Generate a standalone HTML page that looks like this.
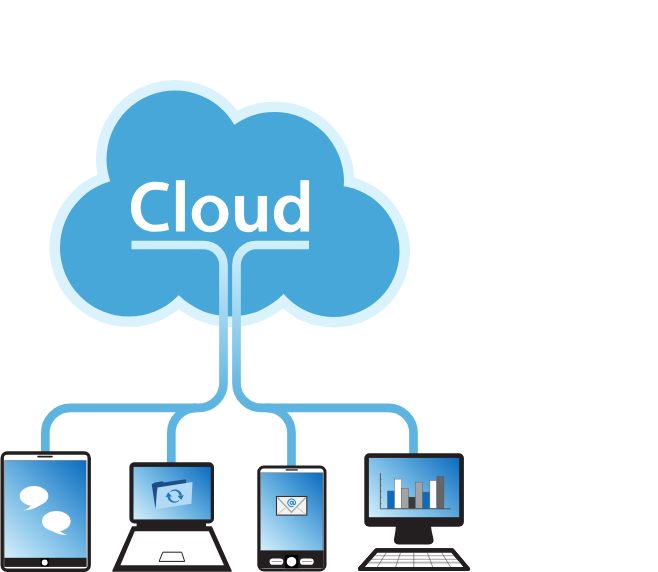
<!DOCTYPE html>
<html><head><meta charset="utf-8"><style>html,body{margin:0;padding:0;background:#fff;width:658px;height:572px;overflow:hidden}svg{display:block}body{font-family:"Liberation Sans",sans-serif}</style></head>
<body><svg width="658" height="572" viewBox="0 0 658 572">
<defs>
<linearGradient id="scr" x1="0" y1="1" x2="1" y2="0">
<stop offset="0" stop-color="#d3eefb"/><stop offset="0.45" stop-color="#76bae5"/><stop offset="1" stop-color="#0b6cbf"/></linearGradient>
<linearGradient id="pipeg" gradientUnits="userSpaceOnUse" x1="0" y1="241" x2="0" y2="405">
<stop offset="0" stop-color="#cff0fd"/><stop offset="0.238" stop-color="#b9e2f7"/><stop offset="0.543" stop-color="#93cfee"/><stop offset="0.848" stop-color="#6bbbe4"/><stop offset="1" stop-color="#5db4e0"/></linearGradient>
</defs>
<circle cx="175" cy="159" r="79.0" fill="#d9f2fc"/>
<circle cx="274.5" cy="181.5" r="80.0" fill="#d9f2fc"/>
<circle cx="333.7" cy="251.2" r="76.3" fill="#d9f2fc"/>
<circle cx="128.9" cy="247.6" r="79.4" fill="#d9f2fc"/>
<circle cx="230.5" cy="243" r="84.0" fill="#d9f2fc"/>
<circle cx="175" cy="159" r="68.5" fill="#48a7d9"/>
<circle cx="274.5" cy="181.5" r="69.5" fill="#48a7d9"/>
<circle cx="333.7" cy="251.2" r="65.8" fill="#48a7d9"/>
<circle cx="128.9" cy="247.6" r="68.9" fill="#48a7d9"/>
<circle cx="230.5" cy="243" r="73.5" fill="#48a7d9"/>
<path d="M169.0,184.3 C165,182.6 160.5,181.85 155.4,181.85 C141,181.85 131,192.5 131,207.4 C131,222.5 141,231.7 155.4,231.7 C160.5,231.7 165.5,230.9 169.0,229.7 L167.5,222.6 C164,224 159.5,224.8 155.2,224.8 C146.5,224.8 140.7,217.5 140.7,207.4 C140.7,197 146.5,189.65 155,189.65 C159.5,189.65 163.5,190.2 167.0,191.0 Z" fill="#fff"/>
<rect x="175.9" y="180.2" width="9" height="51.3" fill="#fff"/>
<path fill="#fff" fill-rule="evenodd" d="M191.7,213.9 a18.4,18.4 0 1 0 36.8,0 a18.4,18.4 0 1 0 -36.8,0 Z M200.5,213.9 a9.4,12.1 0 1 0 18.8,0 a9.4,12.1 0 1 0 -18.8,0 Z"/>
<path fill="#fff" d="M235,196 H244.1 V215.5 Q244.1,225 251,225 Q257.75,225 257.75,215 V196 H267 V231.4 H258.7 L258.3,226.5 Q255,232.3 248.3,232.3 Q235,232.3 235,216 Z"/>
<path fill="#fff" fill-rule="evenodd" d="M302,200 L300.8,200 C297.5,196.8 294,195.4 290,195.4 C280,195.4 273.9,203 273.9,214 C273.9,225 280,232.3 289.5,232.3 C294.5,232.3 298,230 300.8,227 L302,227 Z M291.7,201.7 a8.6,11.5 0 1 0 0.01,0 Z"/>
<rect x="300.4" y="180.2" width="8.7" height="51.3" fill="#fff"/>
<path d="M131.5,245.0 H203.5 A20,20 0 0 1 223.5,265.0 V330 V382.9 A25,25 0 0 1 198.5,407.9 H70.3 A25,25 0 0 0 45.3,432.9 V452" fill="none" stroke="url(#pipeg)" stroke-width="8.7"/>
<path d="M309,245.0 H256.5 A20,20 0 0 0 236.5,265.0 V330 V382.9 A25,25 0 0 0 261.5,407.9 H388.5 A25,25 0 0 1 413.5,432.9 V454" fill="none" stroke="url(#pipeg)" stroke-width="8.7"/>
<path d="M196.3,407.9 A25,25 0 0 0 171.3,432.9 V463" fill="none" stroke="#5db4e0" stroke-width="8.7"/>
<path d="M266.5,407.9 A25,25 0 0 1 291.5,432.9 V467" fill="none" stroke="#5db4e0" stroke-width="8.7"/>
<rect x="2.2" y="453" width="87" height="117.2" rx="5" fill="#fff" stroke="#231f20" stroke-width="3.4"/>
<rect x="4.3" y="460.2" width="82.2" height="106.6" fill="#777"/>
<defs><linearGradient id="g1" gradientUnits="userSpaceOnUse" x1="5" y1="557.6" x2="94.0" y2="468.6"><stop offset="0" stop-color="#d3eefb"/><stop offset="0.45" stop-color="#76bae5"/><stop offset="1" stop-color="#0b6cbf"/></linearGradient></defs>
<rect x="5" y="460.6" width="81" height="97.4" fill="url(#g1)"/>
<rect x="4.3" y="557.8" width="82.2" height="9" fill="#231f20"/>
<rect x="40.7" y="558" width="8" height="8.5" fill="#000"/>
<circle cx="44.7" cy="562.5" r="2.9" fill="#fff"/>
<line x1="38" y1="456.6" x2="52" y2="456.6" stroke="#231f20" stroke-width="1.6" stroke-linecap="round"/>
<ellipse cx="34" cy="496" rx="14.3" ry="10" fill="#fff"/>
<path d="M31,505.6 Q29,508.8 23.2,510.5 Q33.5,510.2 41.5,504.6 Z" fill="#fff"/>
<ellipse cx="56.3" cy="521.2" rx="14.3" ry="10.2" fill="#fff"/>
<path d="M51.5,530.5 Q58,535 67.5,535 Q61.5,533 59.5,530.8 Z" fill="#fff"/>
<rect x="131.4" y="464.2" width="80.6" height="57.3" rx="3" fill="#231f20" stroke="#231f20" stroke-width="4"/>
<defs><linearGradient id="g2" gradientUnits="userSpaceOnUse" x1="133.5" y1="519.4" x2="198.35" y2="454.54999999999995"><stop offset="0" stop-color="#d3eefb"/><stop offset="0.45" stop-color="#76bae5"/><stop offset="1" stop-color="#0b6cbf"/></linearGradient></defs>
<rect x="133.5" y="466.9" width="77.2" height="52.5" fill="url(#g2)"/>
<rect x="136.6" y="522" width="69.4" height="6.6" fill="#231f20"/>
<path d="M132.5,527 L211.3,527 L231,571 L113,571 Z" fill="#231f20" stroke="#231f20" stroke-width="1.6" stroke-linejoin="round"/>
<path d="M134.7,531.3 L208.9,531.3 L224,565.3 L120.4,565.3 Z" fill="#fff"/>
<path d="M162.8,552.2 L181.6,552.2 L184.7,561.4 L159.1,561.4 Z" fill="#fff" stroke="#231f20" stroke-width="1"/>
<path d="M151.7,484.2 L155,482.4 L162.6,481.3 L163.8,482.5 L186,479.2 L186.4,486 L157,490 L155.5,508.9 Z" fill="#1c4f8a"/>
<path d="M157.5,487.5 L192.5,482.1 L191.4,503.8 L155.9,509.3 Z" fill="#b3daf5"/>
<path d="M170.25,491.65 L170.66,491.22 L171.11,490.82 L171.60,490.47 L172.12,490.17 L172.68,489.91 L173.25,489.71 L173.85,489.56 L174.47,489.47 L175.09,489.44 L175.72,489.46 L176.35,489.55 L176.97,489.69 L177.58,489.89 L178.17,490.15 L178.73,490.47 L179.27,490.84 L179.77,491.26 L180.24,491.74 L180.66,492.25 L181.03,492.81 L181.35,493.40 L181.61,494.02 L181.82,494.67 L181.96,495.34 L179.37,495.61 L179.35,495.16 L179.28,494.72 L179.17,494.28 L179.02,493.85 L178.82,493.44 L178.59,493.04 L178.31,492.66 L178.00,492.30 L177.66,491.97 L177.28,491.68 L176.87,491.42 L176.44,491.20 L175.98,491.02 L175.50,490.88 L175.01,490.78 L174.51,490.74 L174.01,490.74 L173.50,490.78 L172.99,490.88 L172.49,491.03 L172.01,491.22 L171.54,491.46 L171.09,491.74 L170.67,492.07 Z M179.15,500.55 L178.74,500.98 L178.29,501.38 L177.80,501.73 L177.28,502.03 L176.72,502.29 L176.15,502.49 L175.55,502.64 L174.93,502.73 L174.31,502.76 L173.68,502.74 L173.05,502.65 L172.43,502.51 L171.82,502.31 L171.23,502.05 L170.67,501.73 L170.13,501.36 L169.63,500.94 L169.16,500.46 L168.74,499.95 L168.37,499.39 L168.05,498.80 L167.79,498.18 L167.58,497.53 L167.44,496.86 L170.03,496.59 L170.05,497.04 L170.12,497.48 L170.23,497.92 L170.38,498.35 L170.58,498.76 L170.81,499.16 L171.09,499.54 L171.40,499.90 L171.74,500.23 L172.12,500.52 L172.53,500.78 L172.96,501.00 L173.42,501.18 L173.90,501.32 L174.39,501.42 L174.89,501.46 L175.39,501.46 L175.90,501.42 L176.41,501.32 L176.91,501.17 L177.39,500.98 L177.86,500.74 L178.31,500.46 L178.73,500.13 Z" fill="#1f73b8"/>
<path d="M177.58,495.80 L183.75,495.15 L181.15,500.05 Z" fill="#1f73b8"/>
<path d="M171.82,496.40 L165.65,497.05 L168.25,492.15 Z" fill="#1f73b8"/>
<rect x="258.8" y="467" width="66.2" height="103" rx="5" fill="#fff" stroke="#231f20" stroke-width="3"/>
<rect x="260" y="472.4" width="63.6" height="96" fill="#777"/>
<defs><linearGradient id="g3" gradientUnits="userSpaceOnUse" x1="261" y1="550.5" x2="330.5" y2="481.0"><stop offset="0" stop-color="#d3eefb"/><stop offset="0.45" stop-color="#76bae5"/><stop offset="1" stop-color="#0b6cbf"/></linearGradient></defs>
<rect x="261" y="473" width="61.5" height="77.5" fill="url(#g3)"/>
<rect x="260" y="550.5" width="63.6" height="17.6" fill="#231f20"/>
<rect x="284.9" y="554.8" width="13.4" height="13.5" fill="#000"/>
<circle cx="291.5" cy="561.7" r="4.8" fill="#fff"/>
<rect x="269.6" y="558.5" width="13.7" height="6.3" rx="3.1" fill="#fff"/>
<rect x="300" y="558.5" width="13.7" height="6.3" rx="3.1" fill="#fff"/>
<line x1="271.5" y1="561.5" x2="281.5" y2="561.5" stroke="#888" stroke-width="0.8"/>
<line x1="302" y1="561.5" x2="312" y2="561.5" stroke="#888" stroke-width="0.8"/>
<line x1="286.5" y1="469.9" x2="297" y2="469.9" stroke="#555" stroke-width="1.8" stroke-linecap="round"/>
<rect x="276.5" y="496.5" width="30.3" height="18.6" fill="#f2f2f2" stroke="#333" stroke-width="1.1"/>
<path d="M277.5,497.5 L291.5,512.3 L306,497.3" fill="none" stroke="#aaa" stroke-width="1.4"/>
<path d="M277.5,514.3 L285.7,507.8 M306,514.3 L297.5,507.8" fill="none" stroke="#bbb" stroke-width="0.9"/>
<g fill="none" stroke="#1a7fd0" stroke-width="1.05"><circle cx="291.6" cy="502.8" r="1.55"/><path d="M293.15,501.1 V503.5 Q293.3,504.7 294.3,504.7 Q295.5,504.7 295.5,502.8 A3.9,3.8 0 1 0 293.6,506.1"/></g>
<rect x="364.3" y="453.3" width="99.6" height="73.5" rx="5" fill="#231f20"/>
<defs><linearGradient id="g4" gradientUnits="userSpaceOnUse" x1="368.9" y1="517.1999999999999" x2="443.7" y2="442.3999999999999"><stop offset="0" stop-color="#d3eefb"/><stop offset="0.45" stop-color="#76bae5"/><stop offset="1" stop-color="#0b6cbf"/></linearGradient></defs>
<rect x="368.9" y="457.9" width="90.3" height="59.3" fill="url(#g4)"/>
<path d="M395.9,526 L431,526 C431.5,532 433,536 433.5,539.5 C434,543 431.5,544.6 427,544.6 L400.5,544.6 C396,544.6 393.6,543 394,539.5 C394.5,536 395.5,532 395.9,526 Z" fill="#231f20"/>
<path d="M376.5,550.3 L452.2,550.3 L468,569 L360,569 Z" fill="#fff" stroke="#231f20" stroke-width="4.2" stroke-linejoin="round"/>
<clipPath id="kb"><path d="M376.5,550.3 L452.2,550.3 L468,569 L360,569 Z"/></clipPath><g clip-path="url(#kb)">
<rect x="360" y="561" width="110" height="2.6" fill="#e6e6e6"/>
<line x1="360" y1="555.7" x2="470" y2="555.7" stroke="#9a9a9a" stroke-width="0.9"/>
<line x1="360" y1="559.3" x2="470" y2="559.3" stroke="#9a9a9a" stroke-width="0.9"/>
<line x1="360" y1="562.8" x2="470" y2="562.8" stroke="#9a9a9a" stroke-width="0.9"/>
<line x1="386.4" y1="552.5" x2="377.3" y2="567" stroke="#444" stroke-width="0.6"/>
<line x1="400.6" y1="552.5" x2="395.6" y2="567" stroke="#444" stroke-width="0.6"/>
<line x1="413.8" y1="552.5" x2="413.8" y2="567" stroke="#444" stroke-width="0.6"/>
<line x1="427.3" y1="552.5" x2="432.7" y2="567" stroke="#444" stroke-width="0.6"/>
<line x1="441.6" y1="552.5" x2="450.5" y2="567" stroke="#444" stroke-width="0.6"/>
</g>
<path d="M376.5,550.3 L452.2,550.3 L468,569 L360,569 Z" fill="none" stroke="#231f20" stroke-width="4.2" stroke-linejoin="round"/>
<rect x="387.5" y="491" width="6.800000000000011" height="17.600000000000023" fill="#0a6cc0" stroke="#555" stroke-width="0.4"/>
<rect x="394.6" y="479.1" width="6.899999999999977" height="29.5" fill="#ffffff" stroke="#555" stroke-width="0.4"/>
<rect x="401.5" y="488.3" width="7.100000000000023" height="20.30000000000001" fill="#a3a3a3" stroke="#555" stroke-width="0.4"/>
<rect x="408.8" y="497.1" width="6.599999999999966" height="11.5" fill="#3a3a3a" stroke="#555" stroke-width="0.4"/>
<rect x="415.7" y="482.1" width="6.800000000000011" height="26.5" fill="#a3a3a3" stroke="#555" stroke-width="0.4"/>
<rect x="422.8" y="492.1" width="6.800000000000011" height="16.5" fill="#0a6cc0" stroke="#555" stroke-width="0.4"/>
<rect x="429.9" y="480.5" width="6.600000000000023" height="28.100000000000023" fill="#ffffff" stroke="#555" stroke-width="0.4"/>
<rect x="437" y="476.2" width="6.899999999999977" height="32.400000000000034" fill="#666666" stroke="#555" stroke-width="0.4"/>
<path d="M380.4,473.2 V508.8 H450.7" fill="none" stroke="#444" stroke-width="0.8"/>
<line x1="380.4" y1="479.4" x2="381.6" y2="479.4" stroke="#444" stroke-width="0.6"/>
<line x1="380.4" y1="485.5" x2="381.6" y2="485.5" stroke="#444" stroke-width="0.6"/>
<line x1="380.4" y1="491.4" x2="381.6" y2="491.4" stroke="#444" stroke-width="0.6"/>
<line x1="380.4" y1="497.4" x2="381.6" y2="497.4" stroke="#444" stroke-width="0.6"/>
<line x1="380.4" y1="503.3" x2="381.6" y2="503.3" stroke="#444" stroke-width="0.6"/>
</svg></body></html>
